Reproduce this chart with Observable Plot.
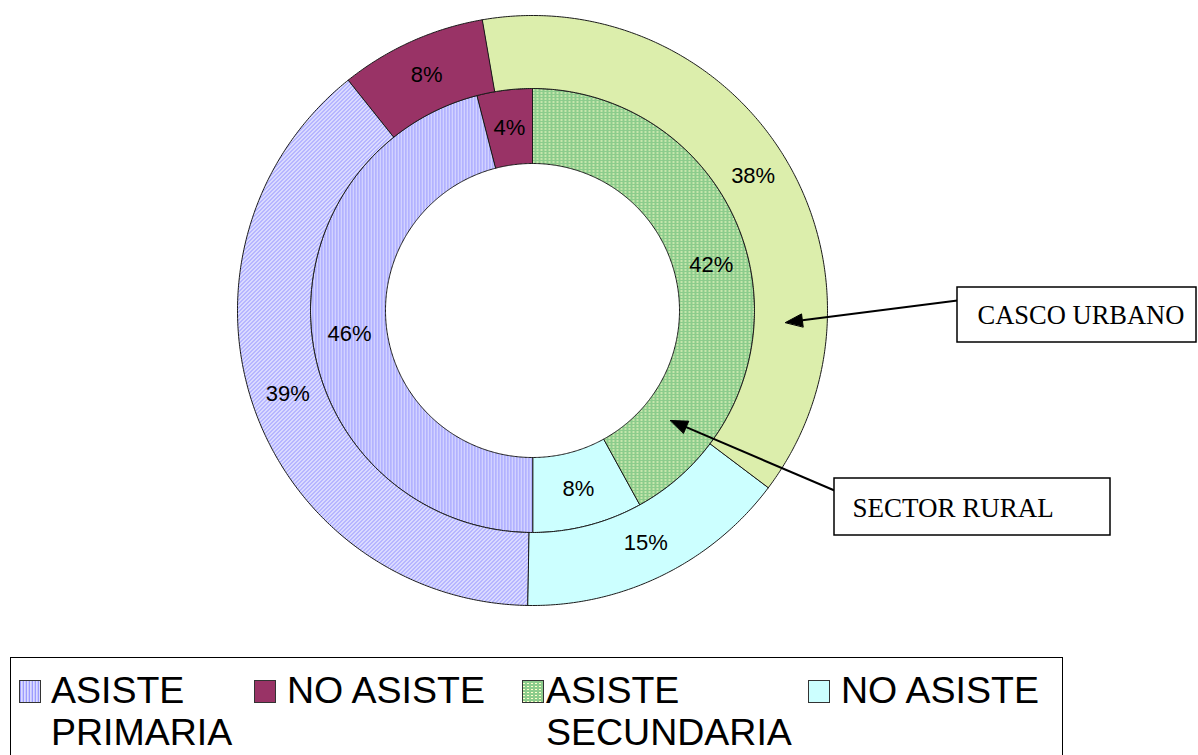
<!DOCTYPE html>
<html><head><meta charset="utf-8">
<script src="https://cdn.jsdelivr.net/npm/d3@7"></script>
<script src="https://cdn.jsdelivr.net/npm/@observablehq/plot@0.6"></script>
<style>
body{margin:0;background:#fff;width:1198px;height:755px;overflow:hidden;position:relative;font-family:"Liberation Sans",Arial,sans-serif;}
#chart{position:absolute;left:0;top:0;}
#legend{position:absolute;left:10px;top:657px;width:1053px;height:120px;border:1px solid #000;box-sizing:border-box;background:#fff;}
.item{position:absolute;top:11px;font-size:37.5px;line-height:42px;color:#000;white-space:nowrap;}
.sw{position:absolute;top:22px;width:22px;height:23px;border:1px solid #333;box-sizing:border-box;}
</style></head><body>
<svg width="0" height="0" style="position:absolute"><defs id="defs"></defs></svg>
<div id="chart"></div>
<div id="legend"></div>
<script>
// ---- data ----
const legendLabels = ["ASISTE PRIMARIA", "NO ASISTE", "ASISTE SECUNDARIA", "NO ASISTE"];
const ringNames = ["SECTOR RURAL", "CASCO URBANO"];
const ruralValues = [46, 4, 42, 8];   // inner ring, legend order
const urbanValues = [39, 8, 38, 15];  // outer ring, legend order
const clockwiseOrder = [2, 3, 0, 1];  // drawing order from 12 o'clock

// ---- patterns ----
const defs = document.getElementById("defs");
function pattern(id, w, h, cells) {
  const ns = "http://www.w3.org/2000/svg";
  const p = document.createElementNS(ns, "pattern");
  p.setAttribute("id", id); p.setAttribute("width", w); p.setAttribute("height", h);
  p.setAttribute("patternUnits", "userSpaceOnUse");
  for (let y = 0; y < h; y++) for (let x = 0; x < w; x++) {
    const r = document.createElementNS(ns, "rect");
    r.setAttribute("x", x); r.setAttribute("y", y); r.setAttribute("width", 1); r.setAttribute("height", 1);
    r.setAttribute("fill", cells(x, y)); r.setAttribute("shape-rendering", "crispEdges");
    p.appendChild(r);
  }
  defs.appendChild(p);
}
pattern("lavOuter", 4, 4, (x, y) => ((x + y) % 4 < 2 ? "#a4a4ff" : "#ececff"));
pattern("lavInner", 3, 1, (x) => ["#9c9cff", "#dcdcff", "#c8c8ff"][x]);
pattern("greenOuter", 2, 2, (x, y) => ((x + y) % 2 ? "#ffffc8" : "#b8dc90"));
pattern("greenInner", 4, 3, (x, y) => (y < 2 ? "#8ccc8c" : (x < 2 ? "#ffffcc" : "#8ccc8c")));

const innerFills = ["url(#lavInner)", "#993366", "url(#greenInner)", "#ccffff"];
const outerFills = ["url(#lavOuter)", "#993366", "url(#greenOuter)", "#ccffff"];
const legendFills = ["url(#lavInner)", "#993366", "url(#greenInner)", "#ccffff"];

// ---- layout ----
const W = 1198, H = 650, CX = 532, CY = 310;
const rings = [
  {values: ruralValues, r0: 147, r1: 222, start: 0, fills: innerFills},
  {values: urbanValues, r0: 222, r1: 295, start: -9.8, fills: outerFills}
];
const pt = (r, deg) => ({x: CX + r * Math.sin(deg * Math.PI / 180), y: CY - r * Math.cos(deg * Math.PI / 180)});

const marks = [];
const labels = [];
rings.forEach(ring => {
  const total = d3.sum(ring.values);
  let acc = ring.start;
  clockwiseOrder.forEach(i => {
    const a0 = acc, a1 = acc + ring.values[i] / total * 360;
    acc = a1;
    const pts = [];
    const n = Math.max(2, Math.ceil((a1 - a0) * 2));
    for (let k = 0; k <= n; k++) pts.push(pt(ring.r1, a0 + (a1 - a0) * k / n));
    for (let k = n; k >= 0; k--) pts.push(pt(ring.r0, a0 + (a1 - a0) * k / n));
    marks.push(Plot.line(pts, {x: "x", y: "y", curve: "linear-closed", fill: ring.fills[i], stroke: "#1a1a1a", strokeWidth: 1}));
    const m = pt((ring.r0 + ring.r1) / 2, (a0 + a1) / 2);
    labels.push({x: m.x, y: m.y, text: ring.values[i] + "%"});
  });
});
marks.push(Plot.text(labels, {x: "x", y: "y", text: "text", fontSize: 22, fontFamily: "Liberation Sans, Arial, sans-serif", fill: "#000"}));

// callouts
const calloutLayout = [
  {x1: 834, x2: 1110, y1: 478, y2: 535, tx: 852, tailX: 834, tailY: 490, tipX: 670, tipY: 420, fs: 27},
  {x1: 957, x2: 1196, y1: 287, y2: 342, tx: 977, tailX: 957, tailY: 300, tipX: 785, tipY: 322, fs: 26.5}
];
const boxes = calloutLayout.map((c, i) => ({...c, label: ringNames[i]}));
const heads = [];
boxes.forEach((c, i) => {
  const dx = c.tipX - c.tailX, dy = c.tipY - c.tailY, L = Math.hypot(dx, dy);
  const ux = dx / L, uy = dy / L, bx = c.tipX - ux * 17, by = c.tipY - uy * 17;
  heads.push({id: i, x: c.tipX, y: c.tipY}, {id: i, x: bx - uy * 6.5, y: by + ux * 6.5}, {id: i, x: bx + uy * 6.5, y: by - ux * 6.5});
  c.linkX = bx; c.linkY = by;
});
marks.push(
  Plot.link(boxes, {x1: "tailX", y1: "tailY", x2: "linkX", y2: "linkY", stroke: "#000", strokeWidth: 2}),
  Plot.line(heads, {x: "x", y: "y", z: "id", curve: "linear-closed", fill: "#000", stroke: "#000", strokeWidth: 1}),
  Plot.rect(boxes, {x1: "x1", x2: "x2", y1: "y1", y2: "y2", fill: "#fff", stroke: "#000", strokeWidth: 1.5})
);
boxes.forEach(b => marks.push(
  Plot.text([b], {x: "tx", y: d => (d.y1 + d.y2) / 2 + 1, text: "label", textAnchor: "start", fontSize: b.fs, fontFamily: "Liberation Serif, Times New Roman, serif", fill: "#000"})
));

const chart = Plot.plot({
  width: W, height: H, margin: 0,
  x: {domain: [0, W], range: [0, W], axis: null},
  y: {domain: [0, H], range: [0, H], axis: null},
  style: {background: "transparent", overflow: "visible"},
  marks
});
document.getElementById("chart").appendChild(chart);

// legend
const legendLayout = [{sx: 8, tx: 40}, {sx: 243, tx: 276}, {sx: 511, tx: 535}, {sx: 797, tx: 830}];
const lg = document.getElementById("legend");
legendLabels.forEach((lab, i) => {
  const sw = document.createElement("div");
  sw.className = "sw"; sw.style.left = legendLayout[i].sx + "px";
  const s = document.createElementNS("http://www.w3.org/2000/svg", "svg");
  s.setAttribute("width", "100%"); s.setAttribute("height", "100%"); s.style.display = "block";
  const r = document.createElementNS("http://www.w3.org/2000/svg", "rect");
  r.setAttribute("width", "100%"); r.setAttribute("height", "100%"); r.setAttribute("fill", legendFills[i]);
  s.appendChild(r); sw.appendChild(s); lg.appendChild(sw);
  const t = document.createElement("div");
  t.className = "item"; t.style.left = legendLayout[i].tx + "px";
  const words = lab.split(" ");
  t.innerHTML = words.length > 1 && words[0] === "ASISTE" ? words[0] + "<br>" + words.slice(1).join(" ") : lab;
  lg.appendChild(t);
});
</script>
</body></html>
